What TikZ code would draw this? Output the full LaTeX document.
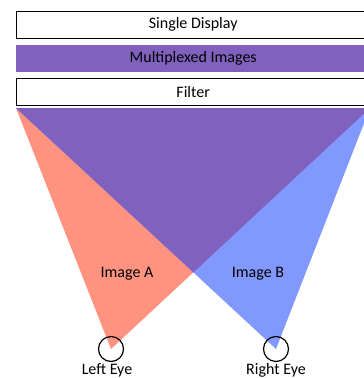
\documentclass[tikz,border=0pt]{standalone}
\usepackage{fontspec}
\setmainfont{Carlito}
\usetikzlibrary{positioning}
\definecolor{imgred}{HTML}{FF9380}
\definecolor{imgblue}{HTML}{8199FF}
\definecolor{imgpurple}{HTML}{8061BD}
\tikzset{
  layer/.style={minimum width=354pt, minimum height=27pt, inner sep=0pt, font=\fontsize{16}{18}\selectfont},
  eye/.style={draw, circle, minimum size=25pt, inner sep=0pt, line width=1.2pt},
  lbl/.style={font=\fontsize{16}{18}\selectfont, inner sep=1pt}
}
\begin{document}
\begin{tikzpicture}[x=1pt,y=-1pt]
            \useasboundingbox (0,0) rectangle (364,378);
            \clip (0,0) rectangle (364,378);

            \coordinate (tl) at (16,108);
            \coordinate (tr) at (370,108);
            \coordinate (ea) at (111,349);
            \coordinate (eb) at (276,349);
            \coordinate (x) at (193.4,272.4);

            \fill[imgred] (tl) -- (tr) -- (ea) -- cycle;
            \fill[imgblue] (tl) -- (tr) -- (eb) -- cycle;
            \fill[imgpurple] (tl) -- (tr) -- (x) -- cycle;

            \node[layer, draw, fill=white, anchor=north west] (disp) at (16,11) {Single Display};
            \node[layer, fill=imgpurple, anchor=north west] (mux) at (16,45) {Multiplexed Images};
            \node[layer, draw, fill=white, anchor=north west] (filt) at (16,78) {Filter};

            \node[lbl] (ia) at (127,274) {Image A};
            \node[lbl] (ib) at (258,274) {Image B};

            \node[eye] (le) at (ea) {};
            \node[eye] (re) at (eb) {};
            \node[lbl, anchor=north] (lt) at ([xshift=-4pt]le.south) {Left Eye};
            \node[lbl, anchor=north] (rt) at (re.south) {Right Eye};
        \end{tikzpicture}
\end{document}
